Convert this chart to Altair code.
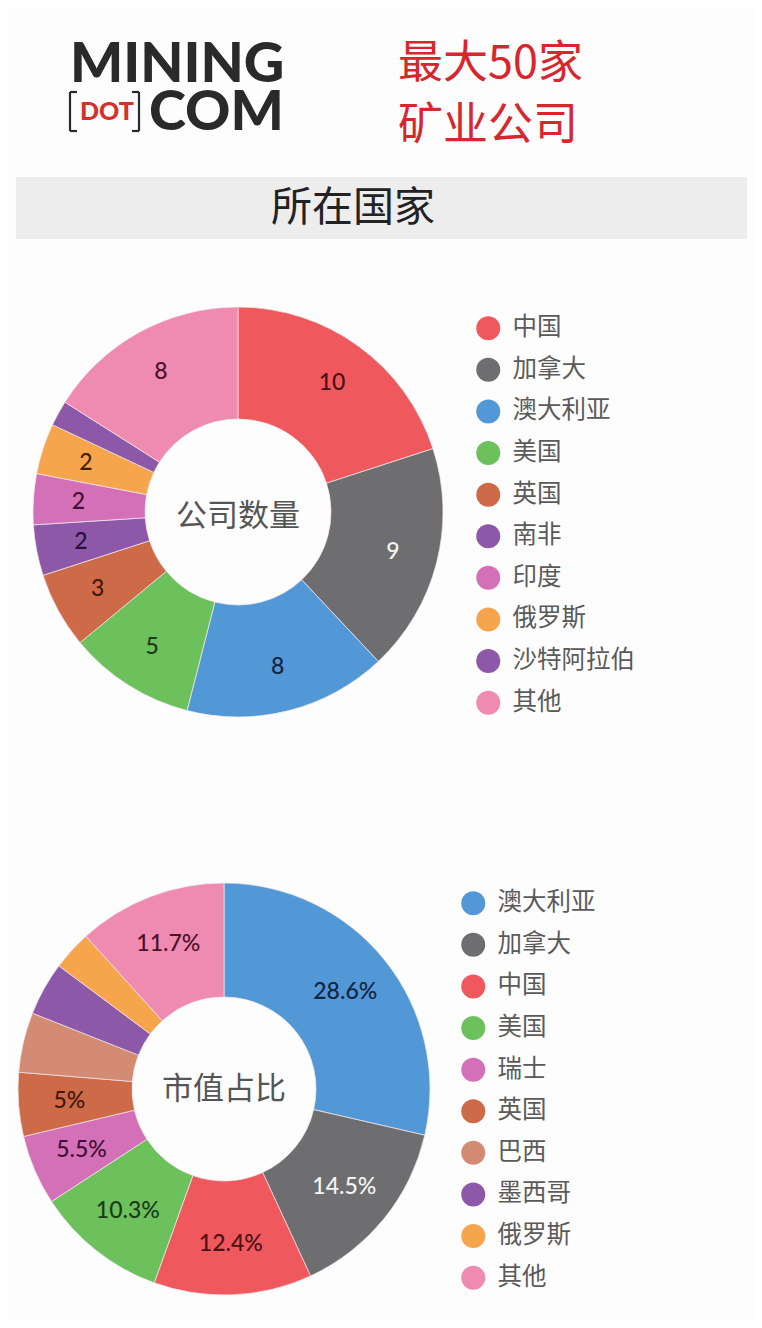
import altair as alt
import pandas as pd

# ---- data ----
count_countries = ["中国", "加拿大", "澳大利亚", "美国", "英国", "南非", "印度", "俄罗斯", "沙特阿拉伯", "其他"]
count_values = [10, 9, 8, 5, 3, 2, 2, 2, 1, 8]
count_labels = ["10", "9", "8", "5", "3", "2", "2", "2", "", "8"]

cap_countries = ["澳大利亚", "加拿大", "中国", "美国", "瑞士", "英国", "巴西", "墨西哥", "俄罗斯", "其他"]
cap_values = [28.6, 14.5, 12.4, 10.3, 5.5, 5.0, 4.7, 4.2, 3.1, 11.7]
cap_labels = ["28.6%", "14.5%", "12.4%", "10.3%", "5.5%", "5%", "", "", "", "11.7%"]

# ---- styles ----
count_colors = ["#ef585d", "#6e6e70", "#5297d6", "#6cc15c", "#cd6a48", "#8d58a8", "#d470b8", "#f7a54c", "#8d58a8", "#ef8bb0"]
count_text_colors = ["#4a1216", "#f4f4f4", "#13243f", "#1c3a16", "#45160a", "#2a0f3c", "#3f0f35", "#3d2400", "#2a0f3c", "#4a1228"]
cap_colors = ["#5297d6", "#6e6e70", "#ef585d", "#6cc15c", "#d470b8", "#cd6a48", "#d38b74", "#8d58a8", "#f7a54c", "#ef8bb0"]
cap_text_colors = ["#13243f", "#f4f4f4", "#4a1216", "#1c3a16", "#3f0f35", "#45160a", "#45160a", "#2a0f3c", "#3d2400", "#4a1228"]

CJK = "Noto Sans CJK SC"
LATIN = "Lato"
INK = "#2a2a2a"

df1 = pd.DataFrame({"country": count_countries, "value": count_values,
                    "label": count_labels, "idx": list(range(len(count_values))),
                    "tcol": count_text_colors})
df2 = pd.DataFrame({"country": cap_countries, "value": cap_values,
                    "label": cap_labels, "idx": list(range(len(cap_values))),
                    "tcol": cap_text_colors})

one = pd.DataFrame({"a": [1]})


def txt(text, x, y, size, color, font=CJK, weight="normal", align="left", baseline="alphabetic"):
    return alt.Chart(pd.DataFrame({"t": [text]})).mark_text(
        fontSize=size, color=color, font=font, fontWeight=weight, align=align, baseline=baseline
    ).encode(x=alt.value(x), y=alt.value(y), text="t:N")


def seg(x1, y1, x2, y2, w=2.2):
    return alt.Chart(one).mark_rule(color=INK, strokeWidth=w).encode(
        x=alt.value(x1), y=alt.value(y1), x2=alt.value(x2), y2=alt.value(y2))


def legend(lx, ly):
    return alt.Legend(orient="none", legendX=lx, legendY=ly, title=None, symbolType="circle",
                      symbolSize=576, symbolStrokeWidth=0, symbolOpacity=1, labelFontSize=24.5,
                      labelFont=CJK, labelColor="#5a5a5a", rowPadding=15.6, labelOffset=12,
                      padding=0, labelLimit=300)


def donut(df, countries, colors, cx, cy, r_in, r_out, r_lab, lx, ly):
    base = alt.Chart(df)
    arc = base.mark_arc(innerRadius=r_in, outerRadius=r_out, stroke="#f3e9ec", strokeWidth=0.7).encode(
        theta=alt.Theta("value:Q", stack=True),
        order=alt.Order("idx:Q"),
        color=alt.Color("country:N", scale=alt.Scale(domain=countries, range=colors), legend=legend(lx, ly)),
        x=alt.value(cx), y=alt.value(cy),
    )
    lab = base.mark_text(radius=r_lab, fontSize=23, font=LATIN, fontWeight=500).encode(
        theta=alt.Theta("value:Q", stack=True),
        order=alt.Order("idx:Q"),
        text="label:N",
        color=alt.Color("tcol:N", scale=None),
        x=alt.value(cx), y=alt.value(cy),
    )
    return arc, lab


arc1, lab1 = donut(df1, count_countries, count_colors, 230, 504, 93, 205, 160, 468, 308)
arc2, lab2 = donut(df2, cap_countries, cap_colors, 216, 1081, 92, 206, 155, 453, 883)

banner = alt.Chart(one).mark_rect(color="#ededee").encode(
    x=alt.value(8), x2=alt.value(739), y=alt.value(169), y2=alt.value(231))

layers = [
    banner,
    txt("MINING", 62, 74, 56, INK, font=LATIN, weight=900),
    # left bracket
    seg(62, 84, 62, 123), seg(62, 84, 69, 84), seg(62, 123, 69, 123),
    txt("DOT", 72, 112, 25, "#d7302c", font=LATIN, weight=900),
    # right bracket
    seg(131, 84, 131, 123), seg(124, 84, 131, 84), seg(124, 123, 131, 123),
    txt("COM", 141, 122, 56, INK, font=LATIN, weight=900),
    txt("最大50家", 390, 70, 45, "#d7262e"),
    txt("矿业公司", 390, 132, 45, "#d7262e"),
    txt("所在国家", 345, 201, 41, "#222222", align="center", baseline="middle"),
    arc1, lab1,
    txt("公司数量", 230, 509, 31, "#555555", align="center", baseline="middle"),
    arc2, lab2,
    txt("市值占比", 216, 1082, 31, "#555555", align="center", baseline="middle"),
]

chart = alt.layer(*layers).resolve_scale(color="independent", theta="independent").properties(
    width=746, height=1312, autosize=alt.AutoSizeParams(type="none"), padding=0,
    background="#fdfdfe"
).configure_view(stroke=None)

chart.save("out.html", embed_options={"renderer": "svg", "actions": False})
